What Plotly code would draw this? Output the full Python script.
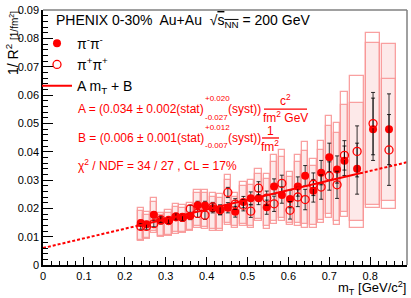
import plotly.graph_objects as go

# ---------------- data ----------------
mt = [0.239, 0.253, 0.271, 0.288, 0.307, 0.325, 0.341, 0.360, 0.378, 0.396,
      0.415, 0.433, 0.452, 0.470, 0.490, 0.508, 0.527, 0.547, 0.565, 0.584,
      0.604, 0.623, 0.641, 0.661, 0.680, 0.700, 0.719, 0.737, 0.768, 0.807, 0.846]

inv_r2_pimpim = [0.0148, 0.0144, 0.0177, 0.0156, 0.0156, 0.0170, 0.0167, 0.0173, 0.0211, 0.0210,
                 0.0200, 0.0194, 0.0202, 0.0188, 0.0222, 0.0236, 0.0236, 0.0204, 0.0277, 0.0247,
                 0.0233, 0.0277, 0.0315, 0.0262, 0.0326, 0.0380, 0.0337, 0.0368, 0.0340, 0.0479, 0.0479]
stat_pimpim = [0.0010, 0.0010, 0.0011, 0.0011, 0.0011, 0.0012, 0.0012, 0.0013, 0.0014, 0.0015,
               0.0016, 0.0017, 0.0018, 0.0019, 0.0020, 0.0022, 0.0023, 0.0025, 0.0027, 0.0029,
               0.0031, 0.0034, 0.0036, 0.0040, 0.0043, 0.0050, 0.0048, 0.0052, 0.0090, 0.0110, 0.0125]
sys_hi_pimpim = [0.0189, 0.0178, 0.0223, 0.0175, 0.0185, 0.0204, 0.0201, 0.0208, 0.0253, 0.0253,
                 0.0240, 0.0236, 0.0301, 0.0241, 0.0279, 0.0284, 0.0321, 0.0302, 0.0363, 0.0380,
                 0.0310, 0.0363, 0.0402, 0.0349, 0.0407, 0.0490, 0.0466, 0.0565, 0.0571, 0.0784, 0.0779]
sys_lo_pimpim = [0.0088, 0.0097, 0.0119, 0.0104, 0.0107, 0.0115, 0.0118, 0.0125, 0.0137, 0.0134,
                 0.0126, 0.0126, 0.0149, 0.0136, 0.0145, 0.0138, 0.0163, 0.0136, 0.0155, 0.0166,
                 0.0149, 0.0148, 0.0144, 0.0141, 0.0160, 0.0180, 0.0156, 0.0187, 0.0156, 0.0213, 0.0225]

inv_r2_pippip = [0.0136, 0.0136, 0.0146, 0.0160, 0.0157, 0.0170, 0.0168, 0.0198, 0.0182, 0.0176,
                 0.0205, 0.0195, 0.0256, 0.0215, 0.0211, 0.0190, 0.0271, 0.0236, 0.0216, 0.0288,
                 0.0193, 0.0240, 0.0231, 0.0285, 0.0275, 0.0314, 0.0283, 0.0387, 0.0401, 0.0499, 0.0406]
stat_pippip = [0.0010, 0.0010, 0.0011, 0.0011, 0.0011, 0.0012, 0.0012, 0.0013, 0.0014, 0.0015,
               0.0016, 0.0017, 0.0018, 0.0019, 0.0020, 0.0022, 0.0023, 0.0025, 0.0027, 0.0029,
               0.0031, 0.0034, 0.0036, 0.0040, 0.0043, 0.0050, 0.0048, 0.0052, 0.0090, 0.0110, 0.0125]
sys_hi_pippip = [0.0201, 0.0187, 0.0235, 0.0183, 0.0194, 0.0215, 0.0211, 0.0218, 0.0266, 0.0266,
                 0.0253, 0.0249, 0.0318, 0.0253, 0.0294, 0.0301, 0.0339, 0.0322, 0.0388, 0.0405,
                 0.0329, 0.0388, 0.0433, 0.0374, 0.0436, 0.0526, 0.0502, 0.0609, 0.0668, 0.0820, 0.0657]
sys_lo_pippip = [0.0083, 0.0093, 0.0114, 0.0100, 0.0104, 0.0111, 0.0114, 0.0121, 0.0132, 0.0128,
                 0.0121, 0.0121, 0.0142, 0.0132, 0.0138, 0.0132, 0.0156, 0.0128, 0.0145, 0.0156,
                 0.0142, 0.0138, 0.0132, 0.0132, 0.0149, 0.0166, 0.0142, 0.0170, 0.0132, 0.0201, 0.0196]

box_width = [0.0155] * 28 + [0.036, 0.036, 0.036]

fit_A = 0.034
fit_B = 0.006
fit_lo, fit_hi = 0.229, 0.775
x_min, x_max = 0.0, 0.89
y_min, y_max = 0.0, 0.09

x_ticks = [0, 0.1, 0.2, 0.3, 0.4, 0.5, 0.6, 0.7, 0.8]
x_ticklabels = ["0", "0.1", "0.2", "0.3", "0.4", "0.5", "0.6", "0.7", "0.8"]
y_ticks = [0, 0.01, 0.02, 0.03, 0.04, 0.05, 0.06, 0.07, 0.08, 0.09]
y_ticklabels = ["0", "0.01", "0.02", "0.03", "0.04", "0.05", "0.06", "0.07", "0.08", "0.09"]

# ---------------- figure ----------------
W, H = 411, 298
ML, MR, MT, MB = 43, 4, 5, 33
PW, PH = W - ML - MR, H - MT - MB


def px(x):
    return (x - ML) / PW


def py(y):
    return (H - MB - y) / PH


RED = "#ff0000"
BOX_EDGE = "rgba(248,150,150,0.9)"
BOX_FILL = "rgba(252,215,215,0.55)"
FONT = "Liberation Sans, Arial, sans-serif"

fig = go.Figure()

# systematic boxes
fig.add_trace(go.Bar(
    x=mt, y=[h - l for h, l in zip(sys_hi_pimpim, sys_lo_pimpim)], base=sys_lo_pimpim,
    width=box_width, marker=dict(color=BOX_FILL, line=dict(color=BOX_EDGE, width=1.3)),
    showlegend=False, hoverinfo="skip"))
fig.add_trace(go.Bar(
    x=mt, y=[h - l for h, l in zip(sys_hi_pippip, sys_lo_pippip)], base=sys_lo_pippip,
    width=box_width, marker=dict(color="rgba(0,0,0,0)", line=dict(color=BOX_EDGE, width=1.3)),
    showlegend=False, hoverinfo="skip"))

# fit line: dashed extrapolation and solid in fit range
for seg in ([x_min, fit_lo], [fit_hi, x_max]):
    fig.add_trace(go.Scatter(x=seg, y=[fit_A * v + fit_B for v in seg], mode="lines",
                             line=dict(color=RED, width=2, dash="3px,2px"),
                             showlegend=False, hoverinfo="skip"))

# data
fig.add_trace(go.Scatter(
    x=mt, y=inv_r2_pimpim, mode="markers", name="π<sup>-</sup>π<sup>-</sup>",
    marker=dict(symbol="circle", size=8, color=RED),
    error_y=dict(type="data", array=stat_pimpim, color="rgba(0,0,0,0.8)", thickness=1, width=2)))
fig.add_trace(go.Scatter(
    x=mt, y=inv_r2_pippip, mode="markers", name="π<sup>+</sup>π<sup>+</sup>",
    marker=dict(symbol="circle-open", size=8, color=RED, line=dict(width=1.3, color=RED)),
    error_y=dict(type="data", array=stat_pippip, color="rgba(0,0,0,0.8)", thickness=1, width=2)))
fig.add_trace(go.Scatter(x=[fit_lo, fit_hi], y=[fit_A * fit_lo + fit_B, fit_A * fit_hi + fit_B],
                         mode="lines", name="A m<sub>T</sub> + B",
                         line=dict(color=RED, width=2), hoverinfo="skip"))

annotations = []


def txt(text, x, y, size, color=RED, xanchor="left", yanchor="middle", **kw):
    annotations.append(dict(text=text, x=px(x), y=py(y), xref="paper", yref="paper",
                            xanchor=xanchor, yanchor=yanchor, showarrow=False, borderpad=0,
                            font=dict(size=size, color=color, family=FONT), **kw))


txt("PHENIX 0-30%  Au+Au  √<span style='text-decoration:overline'>s<sub>NN</sub></span> = 200 GeV",
    55, 16, 14, color="black")

txt("A = (0.034 ± 0.002(stat)", 77, 106, 12)
txt("+0.020", 204, 95, 8)
txt("-0.027", 204, 115, 8)
txt("(syst))", 227, 106, 12)
txt("c<sup>2</sup>", 285, 97, 12, xanchor="center")
txt("fm<sup>2</sup> GeV", 285, 114, 12, xanchor="center")

txt("B = (0.006 ± 0.001(stat)", 77, 135, 12)
txt("+0.012", 204, 125, 8)
txt("-0.007", 204, 143, 8)
txt("(syst))", 227, 135, 12)
txt("1", 270, 128, 12, xanchor="center")
txt("fm<sup>2</sup>", 270, 143.5, 12, xanchor="center")

txt("χ<sup>2</sup> / NDF = 34 / 27 , CL = 17%", 77, 163, 12)

txt("1/ R<sup>2</sup> <span style='font-size:10px'>[1/fm<sup>2</sup>]</span>", 12, 5, 14,
    color="black", xanchor="center", yanchor="top", textangle=-90)
txt("m<sub>T</sub> [GeV/c<sup>2</sup>]", 407, 278, 13, color="black", xanchor="right", yanchor="top")

shapes = [
    dict(type="line", xref="paper", yref="paper", x0=px(264), x1=px(307), y0=py(106), y1=py(106),
         line=dict(color=RED, width=1.3)),
    dict(type="line", xref="paper", yref="paper", x0=px(262), x1=px(279), y0=py(135.5), y1=py(135.5),
         line=dict(color=RED, width=1.3)),
    dict(type="line", xref="paper", yref="paper", x0=0, x1=1, y0=1, y1=1,
         line=dict(color="#808080", width=1.5)),
    dict(type="line", xref="paper", yref="paper", x0=1, x1=1, y0=0, y1=1,
         line=dict(color="#808080", width=1.5)),
]

fig.update_layout(
    width=W, height=H, margin=dict(l=ML, r=MR, t=MT, b=MB),
    paper_bgcolor="white", plot_bgcolor="white",
    barmode="overlay", bargap=0,
    font=dict(family=FONT, color="black"),
    annotations=annotations, shapes=shapes,
    legend=dict(x=px(37), y=py(23), xanchor="left", yanchor="top", bgcolor="rgba(0,0,0,0)",
                font=dict(size=14, family=FONT), itemwidth=30, tracegroupgap=0),
)
fig.update_xaxes(range=[x_min, x_max], tickvals=x_ticks, ticktext=x_ticklabels,
                 ticks="inside", ticklen=8, tickwidth=1, tickcolor="black",
                 minor=dict(ticks="inside", ticklen=4, dtick=0.02, tickcolor="black"),
                 showline=True, linecolor="black", linewidth=1.5, showgrid=False, zeroline=False,
                 tickfont=dict(size=11, family=FONT), ticklabeloverflow="allow")
fig.update_yaxes(range=[y_min, y_max], tickvals=y_ticks, ticktext=y_ticklabels,
                 ticks="inside", ticklen=10, tickwidth=1, tickcolor="black",
                 minor=dict(ticks="inside", ticklen=5, dtick=0.002, tickcolor="black"),
                 showline=True, linecolor="black", linewidth=1.5, showgrid=False, zeroline=False,
                 tickfont=dict(size=11, family=FONT), ticklabeloverflow="allow")

fig.write_html("out.html", config={"displayModeBar": False},
               post_script="document.body.style.margin='0';document.body.style.padding='0';")
